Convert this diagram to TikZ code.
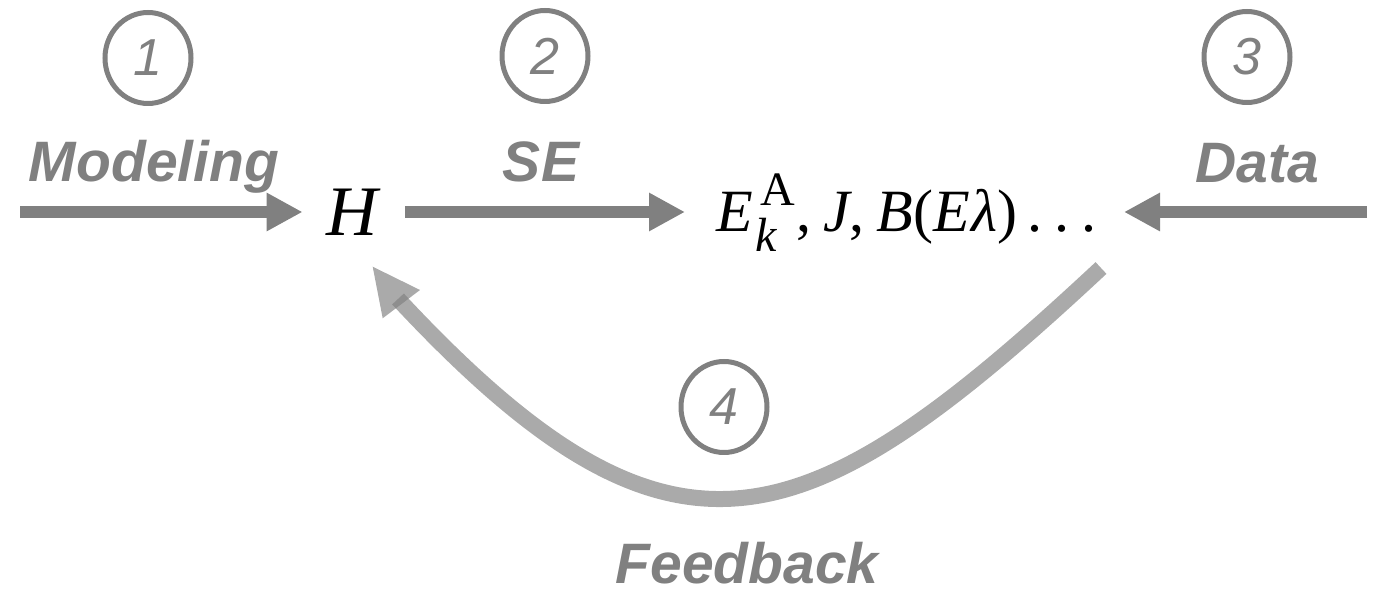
\documentclass[tikz,border=0pt]{standalone}
\usepackage{fontspec}
\setmainfont{Liberation Serif}
\newfontfamily\arialf{Liberation Sans}
\usetikzlibrary{arrows.meta,shapes.geometric}
\definecolor{dg}{HTML}{808080}
\newcommand{\scr}{\fontsize{24}{28}\selectfont}
\tikzset{
  lab/.style={text=dg, font=\arialf\bfseries\itshape\fontsize{28.5}{34}\selectfont, anchor=base, inner sep=0pt},
  num/.style={shape=ellipse, draw=dg, line width=2.5pt, minimum width=43pt, minimum height=45.5pt, inner sep=0pt, text=dg, font=\arialf\itshape\fontsize{26}{30}\selectfont},
  flow/.style={draw=dg, line width=6pt, -{Triangle[length=18pt,width=18pt]}},
  fback/.style={draw=dg, draw opacity=0.67, line width=8pt},
}
\begin{document}
\begin{tikzpicture}[x=0.5pt,y=-0.5pt]
\useasboundingbox (0,0) rectangle (1373,592);
% circled numbers
\node[num] (c1) at (148,58) {\raisebox{-2pt}{1}};
\node[num] (c2) at (545,56) {\raisebox{-1pt}{2}};
\node[num] (c3) at (1247,57) {\raisebox{-2pt}{3}};
\node[num] (c4) at (724,407) {\raisebox{-1.5pt}{4}};
% labels
\node[lab] (lm) at (154,182) {Modeling};
\node[lab] (ls) at (541,182) {SE};
\node[lab] (ld) at (1257,183) {Data};
\node[lab] (lf) at (747,584) {Feedback};
% main nodes
\node[inner sep=0pt, minimum width=51pt, font=\fontsize{35.5}{40}\selectfont] (H) at (354,212) {\textit{H}};
\node[inner sep=0pt, anchor=base west, font=\fontsize{30}{36}\selectfont] (M) at (716,232)
  {\textit{E}\rlap{\kern3.5pt\raisebox{13pt}{\scr A}}\rlap{\kern1pt\raisebox{-10pt}{\scr\itshape k}}\kern21.5pt,\kern6pt\textit{J},\kern6pt\textit{B}(\textit{E}\kern1pt\textit{λ})\kern5pt.\kern6pt.\kern6pt.};
\coordinate (mw) at (685,212);
\coordinate (me) at (1124,212);
% connectors
\coordinate (m0) at (20,212);
\coordinate (d0) at (1367,212);
\draw[flow] (m0) -- (H.west);
\draw[flow] (H.east) -- (H.east -| mw);
\draw[flow] (d0) -- (d0 -| me);
\coordinate (f0) at (1101,268);
\coordinate (f1) at (398,299);
\draw[fback] (f0) .. controls (804,545) and (673,594) .. (f1);
\fill[dg, fill opacity=0.67] (372.7,266.7) -- (382.7,318.3) -- (420,290) -- cycle;
\end{tikzpicture}
\end{document}
